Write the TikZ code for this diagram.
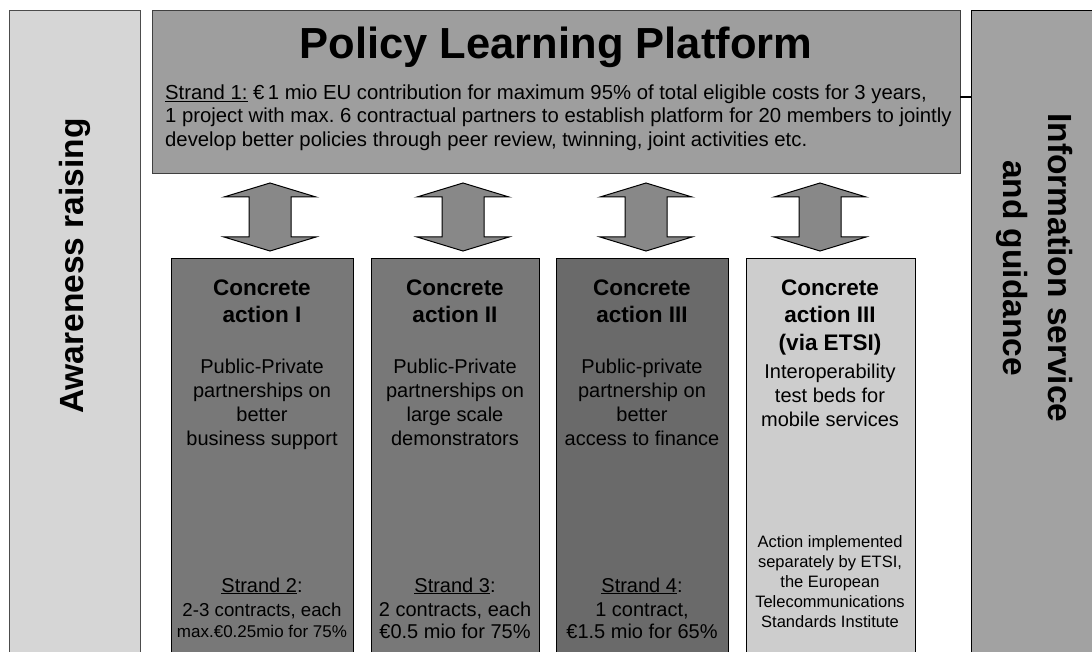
\documentclass[tikz,border=0pt]{standalone}
\usepackage{fontspec}
\setmainfont{Liberation Sans}
\frenchspacing
\definecolor{awgray}{HTML}{D6D6D6}
\definecolor{polgray}{HTML}{9E9E9E}
\definecolor{cagray}{HTML}{787878}
\definecolor{cadark}{HTML}{6A6A6A}
\definecolor{calight}{HTML}{CDCDCD}
\definecolor{infogray}{HTML}{A2A2A2}
\definecolor{arrowgray}{HTML}{888888}
\begin{document}
\begin{tikzpicture}[x=1pt,y=-1pt,
  box/.style={draw=black, line width=0.8pt, inner sep=0pt, outer sep=0pt, anchor=north west},
  headtxt/.style={font=\fontsize{22.5}{27}\selectfont\bfseries, anchor=base, inner sep=0pt},
  bodytxt/.style={font=\fontsize{20}{24}\selectfont, anchor=base, inner sep=0pt},
  smalltxt/.style={font=\fontsize{16.5}{20}\selectfont, anchor=base, inner sep=0pt},
  striptxt/.style={font=\fontsize{20.3}{23}\selectfont, anchor=base west, inner sep=0pt},
  dblarrow/.pic={\draw[fill=arrowgray, line width=1pt, line join=miter]
     (0,-34) -- (46,-20) -- (21,-20) -- (21,20) -- (46,20) -- (0,34)
     -- (-46,20) -- (-21,20) -- (-21,-20) -- (-46,-20) -- cycle;}
]
\useasboundingbox (0,0) rectangle (1092,652);
\clip (0,0) rectangle (1092,652);

% side columns
\node[box, draw=black!70, fill=awgray, minimum width=131pt, minimum height=660pt] (aw) at (9,10) {};
\node[box, fill=infogray, minimum width=140pt, minimum height=660pt] (info) at (971,10) {};
\node[rotate=90, font=\fontsize{33.5}{40}\selectfont\bfseries, inner sep=0pt] (awt) at (75,266) {Awareness raising};
\node[rotate=-90, align=center, font=\fontsize{33.5}{45}\selectfont\bfseries, inner sep=0pt] (inft) at (1035,268) {Information service\\and guidance};

% policy platform
\node[box, draw=black!75, fill=polgray, minimum width=808pt, minimum height=163pt] (pol) at (152,10) {};
\node[font=\fontsize{43.5}{50}\selectfont\bfseries, anchor=base, inner sep=0pt] (ttl) at (556,59) {Policy Learning Platform};
\node[striptxt] (s1a) at (165,100) {\underline{Strand 1:} €\,1 mio EU contribution for maximum 95\% of total eligible costs for 3 years,};
\node[striptxt] (s1b) at (165,123) {1 project with max. 6 contractual partners to establish platform for 20 members to jointly};
\node[striptxt] (s1c) at (165,147) {develop better policies through peer review, twinning, joint activities etc.};
\coordinate (lk) at (0,97);
\draw[line width=2.5pt] (pol.east |- lk) -- (info.west |- lk);

% arrows
\pic at (270,217) {dblarrow};
\pic at (463,217) {dblarrow};
\pic at (646,217) {dblarrow};
\pic at (820,217) {dblarrow};

% concrete action boxes
\node[box, fill=cagray, minimum width=182pt, minimum height=420pt] (ca1) at (171,258) {};
\node[box, fill=cagray, minimum width=168pt, minimum height=420pt] (ca2) at (371,258) {};
\node[box, fill=cadark, minimum width=172pt, minimum height=420pt] (ca3) at (556,258) {};
\node[box, fill=calight, minimum width=169pt, minimum height=420pt] (ca4) at (746,258) {};

% box I
\node[headtxt] (c1h1) at (262,296) {Concrete};
\node[headtxt] (c1h2) at (262,323) {action I};
\foreach \t [count=\i from 0] in {Public-Private,partnerships on,better,business support}
  \node[bodytxt] (c1b\i) at (262,373+24*\i) {\t};
\node[bodytxt] (c1s) at (262,592) {\underline{Strand 2}:};
\node[bodytxt, font=\fontsize{18.7}{22}\selectfont] (c1s2) at (262,616) {2-3 contracts, each};
\node[bodytxt, font=\fontsize{17}{20}\selectfont] (c1s3) at (262,637) {max.€0.25mio for 75\%};

% box II
\node[headtxt] (c2h1) at (455,296) {Concrete};
\node[headtxt] (c2h2) at (455,323) {action II};
\foreach \t [count=\i from 0] in {Public-Private,partnerships on,large scale,demonstrators}
  \node[bodytxt] (c2b\i) at (455,373+24*\i) {\t};
\node[bodytxt] (c2s) at (455,592) {\underline{Strand 3}:};
\node[bodytxt] (c2s2) at (455,616) {2 contracts, each};
\node[bodytxt] (c2s3) at (455,638) {€0.5 mio for 75\%};

% box III
\node[headtxt] (c3h1) at (642,296) {Concrete};
\node[headtxt] (c3h2) at (642,323) {action III};
\foreach \t [count=\i from 0] in {Public-private,partnership on,better,access to finance}
  \node[bodytxt] (c3b\i) at (642,373+24*\i) {\t};
\node[bodytxt] (c3s) at (642,592) {\underline{Strand 4}:};
\node[bodytxt] (c3s2) at (642,616) {1 contract,};
\node[bodytxt] (c3s3) at (642,638) {€1.5 mio for 65\%};

% box IV
\node[headtxt] (c4h1) at (830,296) {Concrete};
\node[headtxt] (c4h2) at (830,323) {action III};
\node[headtxt] (c4h3) at (830,350) {(via ETSI)};
\foreach \t [count=\i from 0] in {Interoperability,test beds for,mobile services}
  \node[bodytxt] (c4b\i) at (830,378+24*\i) {\t};
\foreach \t [count=\i from 0] in {Action implemented,{separately by ETSI,},the European,Telecommunications,Standards Institute}
  \node[smalltxt] (c4s\i) at (830,547+20*\i) {\t};
\end{tikzpicture}
\end{document}
